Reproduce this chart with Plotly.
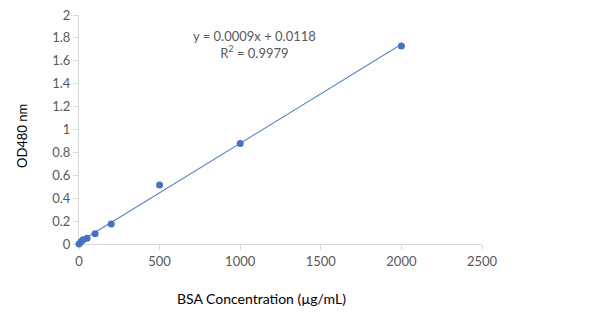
import numpy as np
import plotly.graph_objects as go

conc = [0, 12.5, 25, 50, 100, 200, 500, 1000, 2000]
od480 = [0.0, 0.02, 0.038, 0.05, 0.09, 0.175, 0.515, 0.877, 1.73]
x_ticks = [0, 500, 1000, 1500, 2000, 2500]
y_ticks = [0, 0.2, 0.4, 0.6, 0.8, 1.0, 1.2, 1.4, 1.6, 1.8, 2.0]
y_labels = ["0", "0.2", "0.4", "0.6", "0.8", "1", "1.2", "1.4", "1.6", "1.8", "2"]
eq_text = "y = 0.0009x + 0.0118<br>R<sup>2</sup> = 0.9979"

slope, intercept = np.polyfit(conc, od480, 1)
fit_x = [min(conc), max(conc)]
fit_y = [slope * v + intercept for v in fit_x]

FONT = "Lato, 'Open Sans', sans-serif"
GRAY = "#595959"
AXIS = "#d9d9d9"

L, R, T, B = 79, 118, 15, 80
W, H = 600, 324

fig = go.Figure()
fig.add_trace(go.Scatter(x=fit_x, y=fit_y, mode="lines",
                         line=dict(color="#5b87c5", width=1.2),
                         hoverinfo="skip", showlegend=False, cliponaxis=False))
fig.add_trace(go.Scatter(x=conc, y=od480, mode="markers",
                         marker=dict(color="#4472c4", size=7),
                         showlegend=False, cliponaxis=False))

fig.update_layout(
    width=W, height=H,
    margin=dict(l=L, r=R, t=T, b=B, autoexpand=False),
    plot_bgcolor="white", paper_bgcolor="white",
    font=dict(family=FONT, size=13, color=GRAY),
    xaxis=dict(range=[0, 2500], tickvals=x_ticks, showgrid=False, zeroline=False,
               showline=True, linecolor=AXIS, linewidth=1, layer="below traces",
               ticks="outside", ticklen=5, tickcolor=AXIS, automargin=False,
               tickfont=dict(family=FONT, size=13, color=GRAY)),
    yaxis=dict(range=[0, 2], tickvals=y_ticks, ticktext=y_labels, showgrid=False,
               zeroline=False, showline=True, linecolor=AXIS, linewidth=1,
               layer="below traces",
               ticks="outside", ticklen=5, tickcolor=AXIS, automargin=False,
               tickfont=dict(family=FONT, size=13, color=GRAY)),
)

pw = W - L - R
ph = H - T - B
def px_to_paper(px, py):
    return (px - L) / pw, (H - B - py) / ph

def add_text(text, px, py, size, color, angle=0):
    x, y = px_to_paper(px, py)
    fig.add_annotation(text=text, x=x, y=y, xref="paper", yref="paper",
                       xanchor="center", yanchor="middle", showarrow=False,
                       textangle=angle, align="center",
                       font=dict(family=FONT, size=size, color=color))

add_text(eq_text, 254, 45, 13, GRAY)
add_text("BSA Concentration (µg/mL)", 261, 298, 14, "black")
add_text("OD480 nm", 22, 136, 13, "black", angle=-90)

fig.write_html("out.html")
